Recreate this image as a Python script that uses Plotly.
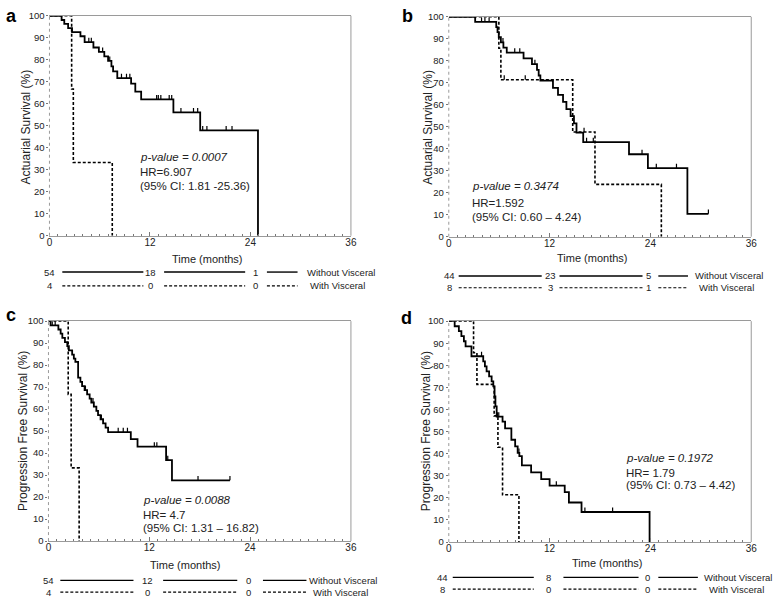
import plotly.graph_objects as go

W, H = 778, 604

# ---------------- data ----------------
# Panel a: Actuarial survival
a_wo_t = [0, 1.45, 1.77, 2.23, 2.7, 3.7, 4.2, 5.25, 5.9, 6.55, 7.0, 7.4, 7.6, 8.1, 9.75, 10.25, 10.95, 14.8, 18.0, 24.9]
a_wo_s = [100, 98.1, 96.3, 94.4, 92.6, 90.7, 88.0, 85.6, 83.6, 81.6, 79.5, 77.0, 74.7, 71.7, 69.2, 65.5, 62.0, 56.1, 47.9, 0]
a_wo_cens = [0.95, 4.7, 5.0, 6.35, 7.2, 8.6, 9.2, 9.6, 12.8, 13.0, 13.3, 14.3, 14.6, 15.7, 17.2, 17.7, 18.3, 18.8, 21.1, 21.8]
a_w_t = [0, 2.65, 2.85, 7.5]
a_w_s = [100, 66.7, 33.3, 0]
a_w_cens = [1.9]

# Panel b: Actuarial survival
b_wo_t = [0, 3.14, 5.65, 5.8, 5.95, 6.2, 6.5, 6.9, 8.9, 9.9, 10.5, 10.7, 10.9, 12.4, 13.0, 13.6, 14.0, 14.5, 14.9, 15.2, 16.0, 21.45, 23.7, 28.4]
b_wo_s = [100, 97.7, 95.3, 93.0, 90.7, 88.4, 86.0, 83.7, 81.1, 78.5, 75.9, 73.3, 71.0, 67.7, 64.5, 61.3, 58.0, 54.8, 51.5, 47.3, 43.0, 37.5, 31.2, 10.4]
b_wo_end = 30.9
b_wo_cens = [3.9, 4.3, 4.8, 6.45, 7.85, 8.45, 10.25, 16.4, 17.2, 23.0, 24.7, 27.1, 30.9]
b_w_t = [0, 5.96, 6.2, 14.75, 17.4, 25.3]
b_w_s = [100, 85.7, 71.4, 47.6, 23.8, 0]
b_w_cens = [1.25, 6.6, 9.1, 16.1]

# Panel c: Progression free survival
c_wo_t = [0, 0.25, 1.18, 1.45, 1.65, 1.96, 2.24, 2.43, 2.82, 3.02, 3.2, 3.53, 3.8, 4.0, 4.3, 4.6, 4.9, 5.1, 5.4, 5.7, 5.9, 6.2, 6.5, 6.8, 7.1, 9.8, 10.6, 14.0, 14.7]
c_wo_s = [100, 98.1, 96.2, 94.3, 92.4, 90.5, 88.6, 86.7, 84.8, 83.0, 81.5, 74.3, 72.4, 70.5, 68.6, 66.7, 64.8, 63.0, 61.1, 59.2, 57.3, 55.4, 53.5, 51.6, 49.5, 46.4, 42.9, 36.8, 27.6]
c_wo_end = 21.6
c_wo_cens = [0.45, 0.8, 4.4, 5.3, 6.3, 8.3, 8.9, 9.4, 12.6, 12.9, 14.2, 17.8, 21.6]
c_w_t = [0, 2.35, 2.7, 3.65]
c_w_s = [100, 66.7, 33.3, 0]
c_w_cens = [1.75]

# Panel d: Progression free survival
d_wo_t = [0, 0.7, 1.2, 1.5, 1.8, 2.0, 2.7, 4.1, 4.3, 4.5, 4.8, 5.1, 5.3, 5.45, 5.55, 5.7, 6.4, 6.7, 7.45, 7.9, 8.2, 8.4, 8.7, 9.8, 11.0, 12.0, 13.8, 14.3, 15.8, 23.9]
d_wo_s = [100, 97.7, 95.5, 93.2, 90.9, 88.6, 84.1, 81.8, 79.5, 77.3, 75.0, 72.7, 70.5, 65.9, 61.4, 56.8, 54.5, 51.5, 46.3, 43.3, 40.4, 38.9, 34.7, 31.5, 28.5, 25.5, 22.6, 17.9, 13.6, 0]
d_wo_cens = [3.9, 5.8, 5.95, 8.35, 12.8, 16.2, 19.5]
d_w_t = [0, 2.95, 3.35, 5.4, 5.85, 6.4, 8.35]
d_w_s = [100, 85.7, 71.4, 57.1, 42.9, 21.4, 0]
d_w_cens = [1.2]

# risk tables: numbers at risk at 0, 12, 24 months
risk_times = [0, 12, 24]
a_risk_wo = [54, 18, 1]
a_risk_w = [4, 0, 0]
b_risk_wo = [44, 23, 5]
b_risk_w = [8, 3, 1]
c_risk_wo = [54, 12, 0]
c_risk_w = [4, 0, 0]
d_risk_wo = [44, 8, 0]
d_risk_w = [8, 0, 0]

group_labels = ["Without Visceral", "With Visceral"]
panel_letters = ["a", "b", "c", "d"]
y_titles = ["Actuarial Survival (%)", "Actuarial Survival (%)",
            "Progression Free Survival (%)", "Progression Free Survival (%)"]
x_title = "Time (months)"
x_ticks = [0, 12, 24, 36]
stats = [
    ("p-value = 0.0007", "HR=6.907", "(95% CI: 1.81 -25.36)"),
    ("p-value = 0.3474", "HR=1.592", "(95% CI: 0.60 \u2013 4.24)"),
    ("p-value = 0.0088", "HR= 4.7", "(95% CI: 1.31 \u2013 16.82)"),
    ("p-value = 0.1972", "HR= 1.79", "(95% CI: 0.73 \u2013 4.42)"),
]

# ---------------- helpers ----------------
def fx(px):
    return px / W

def fy(py):
    return 1 - py / H

def step_at(t, s, c):
    v = s[0]
    for ti, si in zip(t, s):
        if ti <= c:
            v = si
    return v

def km_xy(t, s, end=None):
    x, y = list(t), list(s)
    if end is not None:
        x.append(end)
        y.append(s[-1])
    return x, y

def cens_xy(t, s, cens, h=2.0):
    x, y = [], []
    for c in cens:
        v = step_at(t, s, c)
        x += [c, c, None]
        y += [v, v + h, None]
    return x, y

# panel geometry in pixels: (left, right, top, bottom)
boxes = [(47, 352, 10, 234), (451, 757, 11, 235), (46, 352, 321, 545), (451, 757, 321, 546)]

panels = [
    (a_wo_t, a_wo_s, None, a_wo_cens, a_w_t, a_w_s, a_w_cens, a_risk_wo, a_risk_w),
    (b_wo_t, b_wo_s, b_wo_end, b_wo_cens, b_w_t, b_w_s, b_w_cens, b_risk_wo, b_risk_w),
    (c_wo_t, c_wo_s, c_wo_end, c_wo_cens, c_w_t, c_w_s, c_w_cens, c_risk_wo, c_risk_w),
    (d_wo_t, d_wo_s, None, d_wo_cens, d_w_t, d_w_s, d_w_cens, d_risk_wo, d_risk_w),
]

fig = go.Figure()
layout = dict(
    width=W, height=H, margin=dict(l=0, r=0, t=0, b=0),
    paper_bgcolor="white", plot_bgcolor="white", showlegend=False,
    font=dict(family="Arial, Liberation Sans, sans-serif", color="#222"),
)
shapes, annos = [], []

DASH = "3px,2px"
TXT = "#222"
AX = "#9a9a9a"

# per-panel text placement (pixels)
stat_pos = [(137, 154, 169, 183), (472, 183, 201, 215), (140, 503, 518, 532), (628, 460, 476, 488)]
xtitle_pos = [(207, 258), (596, 257), (185, 569), (612, 567)]
ytitle_pos = [(23, 123), (430, 124), (20, 433), (428, 433)]
letter_pos = [(9, 10), (409, 10), (8, 315), (408, 318)]
risk_rows = [(271, 285), (275, 287), (585, 597), (582, 594)]
risk_cols = [(47, 149, 255), (452, 554, 653), (46, 146, 248), (445, 552, 652)]
risk_lines = [
    [(60, 142), (163, 245), (267, 298)],
    [(461, 545), (563, 647), (663, 693)],
    [(58, 132), (162, 237), (263, 307)],
    [(455, 537), (567, 643), (663, 703)],
]
label_x = [(306, 309), (698, 702), (308, 312), (707, 712)]

for i, (wt, ws, wend, wc, vt, vs, vc, rwo, rw) in enumerate(panels):
    k = "" if i == 0 else str(i + 1)
    xa, ya = "x" + k, "y" + k
    L, R, T, B = boxes[i]
    layout["xaxis" + k] = dict(
        domain=[fx(L), fx(R)], range=[0, 36], anchor=ya,
        tickvals=x_ticks, ticks="inside", ticklen=4, tickcolor="#777", tickwidth=1,
        minor=dict(dtick=1, tick0=0, ticks="inside", ticklen=2, tickcolor="#777"),
        showline=True, linecolor=AX, linewidth=1, mirror=True,
        showgrid=False, zeroline=False, ticklabelstandoff=-3,
        tickfont=dict(size=10, color=TXT, family="Arial, Liberation Sans"),
    )
    layout["yaxis" + k] = dict(
        domain=[fy(B), fy(T)], range=[0, 100], anchor=xa,
        dtick=10, tick0=0, ticks="outside", ticklen=2, tickcolor="#777",
        showline=False, showgrid=False, zeroline=False,
        tickfont=dict(size=9.5, color=TXT, family="Arial, Liberation Sans"),
    )
    # right solid frame line and left dotted axis line
    shapes.append(dict(type="line", xref=xa + " domain", yref=ya + " domain",
                       x0=1, x1=1, y0=0, y1=1, line=dict(color=AX, width=1)))
    shapes.append(dict(type="line", xref=xa + " domain", yref=ya + " domain",
                       x0=0, x1=0, y0=0, y1=1, line=dict(color=AX, width=1, dash="dot")))

    # curves: with visceral (dashed) then without (solid)
    x, y = km_xy(vt, vs)
    fig.add_trace(go.Scatter(x=x, y=y, mode="lines", line=dict(color="black", width=1.6, dash=DASH, shape="hv"),
                             xaxis=xa, yaxis=ya, cliponaxis=False, hoverinfo="skip"))
    x, y = cens_xy(vt, vs, vc)
    fig.add_trace(go.Scatter(x=x, y=y, mode="lines", line=dict(color="black", width=1.2),
                             xaxis=xa, yaxis=ya, cliponaxis=False, hoverinfo="skip"))
    x, y = km_xy(wt, ws, wend)
    fig.add_trace(go.Scatter(x=x, y=y, mode="lines", line=dict(color="black", width=1.8, shape="hv"),
                             xaxis=xa, yaxis=ya, cliponaxis=False, hoverinfo="skip"))
    x, y = cens_xy(wt, ws, wc)
    fig.add_trace(go.Scatter(x=x, y=y, mode="lines", line=dict(color="black", width=1.2),
                             xaxis=xa, yaxis=ya, cliponaxis=False, hoverinfo="skip"))

    # panel letter
    lx, ly = letter_pos[i]
    annos.append(dict(text="<b>%s</b>" % panel_letters[i], x=fx(lx), y=fy(ly), xref="paper", yref="paper",
                      showarrow=False, xanchor="center", yanchor="middle",
                      font=dict(size=18, color="black", family="Arial, Liberation Sans")))
    # axis titles
    tx, ty = xtitle_pos[i]
    annos.append(dict(text=x_title, x=fx(tx), y=fy(ty), xref="paper", yref="paper", showarrow=False,
                      xanchor="center", yanchor="middle", font=dict(size=11, color=TXT)))
    tx, ty = ytitle_pos[i]
    annos.append(dict(text=y_titles[i], x=fx(tx), y=fy(ty), xref="paper", yref="paper", showarrow=False,
                      textangle=-90, xanchor="center", yanchor="middle", font=dict(size=12, color=TXT)))
    # statistics
    sx, y1, y2, y3 = stat_pos[i]
    p, hr, ci = stats[i]
    for txt, yy in (("<i>%s</i>" % p, y1), (hr, y2), (ci, y3)):
        annos.append(dict(text=txt, x=fx(sx), y=fy(yy), xref="paper", yref="paper", showarrow=False,
                          xanchor="left", yanchor="middle", font=dict(size=11.5, color=TXT)))
    # risk table
    r1, r2 = risk_rows[i]
    for row_y, counts, dash, lbx, lab in ((r1, rwo, None, label_x[i][0], group_labels[0]),
                                          (r2, rw, DASH, label_x[i][1], group_labels[1])):
        for cx, n in zip(risk_cols[i], counts):
            annos.append(dict(text=str(n), x=fx(cx), y=fy(row_y), xref="paper", yref="paper", showarrow=False,
                              xanchor="center", yanchor="middle", font=dict(size=9.5, color=TXT)))
        for (x0, x1) in risk_lines[i]:
            ln = dict(color="black", width=1.4 if dash is None else 1.2)
            if dash:
                ln["dash"] = dash
            shapes.append(dict(type="line", xref="paper", yref="paper", x0=fx(x0), x1=fx(x1),
                               y0=fy(row_y), y1=fy(row_y), line=ln))
        annos.append(dict(text=lab, x=fx(lbx), y=fy(row_y), xref="paper", yref="paper", showarrow=False,
                          xanchor="left", yanchor="middle",
                          font=dict(size=9.5, color=TXT, family="Arial, Liberation Sans")))

layout["shapes"] = shapes
layout["annotations"] = annos
fig.update_layout(**layout)
fig.write_html("out.html", config={"displayModeBar": False},
               post_script="document.body.style.margin='0';document.body.style.overflow='hidden';")
